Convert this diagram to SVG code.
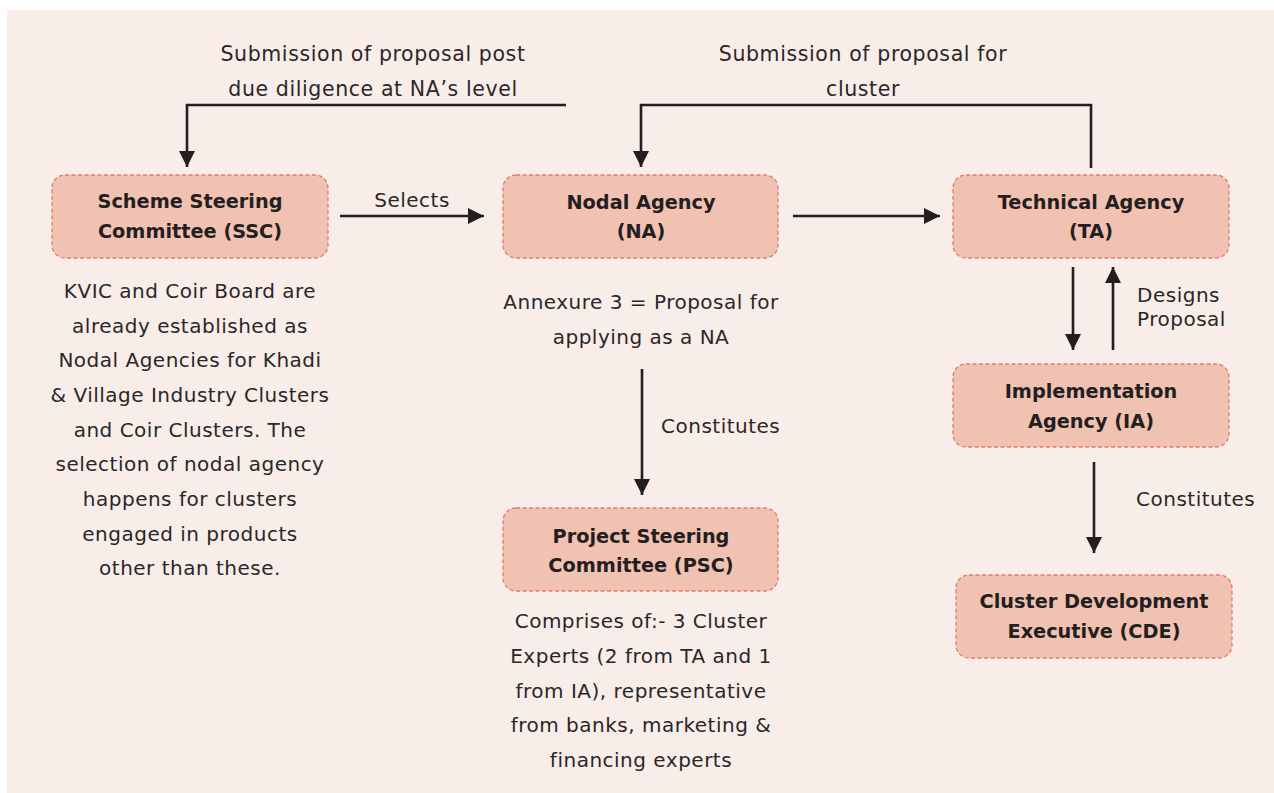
<svg xmlns="http://www.w3.org/2000/svg" width="1274" height="793" viewBox="0 0 1274 793">
<style>
.box{fill:#f1c1b1;stroke:#e27c6b;stroke-width:1.3;stroke-dasharray:4 2.5}
.t{font-family:"DejaVu Sans","Liberation Sans",sans-serif;font-size:20px;letter-spacing:0.5px;fill:#2b2728;text-anchor:middle}
.tt{font-size:20.5px;letter-spacing:0.6px}
.ts{font-family:"DejaVu Sans","Liberation Sans",sans-serif;font-size:20px;letter-spacing:0.5px;fill:#2b2728}
.b{font-family:"DejaVu Sans","Liberation Sans",sans-serif;font-size:19.3px;font-weight:bold;fill:#231f20;text-anchor:middle}
.c{fill:none;stroke:#231f20;stroke-width:2.6}
</style>
<defs>
<marker id="ah" markerUnits="userSpaceOnUse" markerWidth="16" markerHeight="18" viewBox="0 0 16 18" refX="16" refY="8" orient="auto">
<path d="M0,0 L16,8 L0,16 Z" fill="#231f20"/>
</marker>
</defs>
<rect x="7" y="10" width="1267" height="783" fill="#f8ede8"/>

<g id="connectors">
<polyline class="c" points="566,105 187,105 187,167" marker-end="url(#ah)"/>
<polyline class="c" points="1091,168 1091,105 641,105 641,167" marker-end="url(#ah)"/>
<line class="c" x1="340" y1="216" x2="484" y2="216" marker-end="url(#ah)"/>
<line class="c" x1="793" y1="216" x2="940" y2="216" marker-end="url(#ah)"/>
<line class="c" x1="1073" y1="267" x2="1073" y2="350" marker-end="url(#ah)"/>
<line class="c" x1="1113" y1="350" x2="1113" y2="267" marker-end="url(#ah)"/>
<line class="c" x1="642" y1="369" x2="642" y2="495" marker-end="url(#ah)"/>
<line class="c" x1="1094" y1="462" x2="1094" y2="553" marker-end="url(#ah)"/>
<text class="t tt" x="373" y="61">Submission of proposal post</text>
<text class="t tt" x="373" y="96">due diligence at NA’s level</text>
<text class="t tt" x="863" y="61">Submission of proposal for</text>
<text class="t tt" x="863" y="96">cluster</text>
<text class="t" x="412" y="207">Selects</text>
<text class="ts" x="1137" y="302">Designs</text>
<text class="ts" x="1137" y="326">Proposal</text>
<text class="ts" x="661" y="433">Constitutes</text>
<text class="ts" x="1136" y="506">Constitutes</text>
</g>

<g id="ssc">
<rect class="box" x="52" y="175" width="276" height="83" rx="13"/>
<text class="b" x="190" y="208">Scheme Steering</text>
<text class="b" x="190" y="238">Committee (SSC)</text>
</g>
<g id="ssc-note">
<text class="t" x="190" y="298">KVIC and Coir Board are</text>
<text class="t" x="190" y="333">already established as</text>
<text class="t" x="190" y="367">Nodal Agencies for Khadi</text>
<text class="t" x="190" y="402">&amp; Village Industry Clusters</text>
<text class="t" x="190" y="437">and Coir Clusters. The</text>
<text class="t" x="190" y="471">selection of nodal agency</text>
<text class="t" x="190" y="506">happens for clusters</text>
<text class="t" x="190" y="541">engaged in products</text>
<text class="t" x="190" y="575">other than these.</text>
</g>

<g id="na">
<rect class="box" x="503" y="175" width="275" height="83" rx="13"/>
<text class="b" x="641" y="209">Nodal Agency</text>
<text class="b" x="641" y="238">(NA)</text>
</g>
<g id="na-note">
<text class="t" x="641" y="309">Annexure 3 = Proposal for</text>
<text class="t" x="641" y="344">applying as a NA</text>
</g>

<g id="ta">
<rect class="box" x="953" y="175" width="276" height="83" rx="13"/>
<text class="b" x="1091" y="209">Technical Agency</text>
<text class="b" x="1091" y="238">(TA)</text>
</g>

<g id="ia">
<rect class="box" x="953" y="364" width="276" height="83" rx="13"/>
<text class="b" x="1091" y="398">Implementation</text>
<text class="b" x="1091" y="428">Agency (IA)</text>
</g>

<g id="psc">
<rect class="box" x="503" y="508" width="275" height="83" rx="13"/>
<text class="b" x="641" y="543">Project Steering</text>
<text class="b" x="641" y="572">Committee (PSC)</text>
</g>
<g id="psc-note">
<text class="t" x="641" y="628">Comprises of:- 3 Cluster</text>
<text class="t" x="641" y="663">Experts (2 from TA and 1</text>
<text class="t" x="641" y="698">from IA), representative</text>
<text class="t" x="641" y="732">from banks, marketing &amp;</text>
<text class="t" x="641" y="767">financing experts</text>
</g>

<g id="cde">
<rect class="box" x="956" y="575" width="276" height="83" rx="13"/>
<text class="b" x="1094" y="608">Cluster Development</text>
<text class="b" x="1094" y="638">Executive (CDE)</text>
</g>
</svg>
